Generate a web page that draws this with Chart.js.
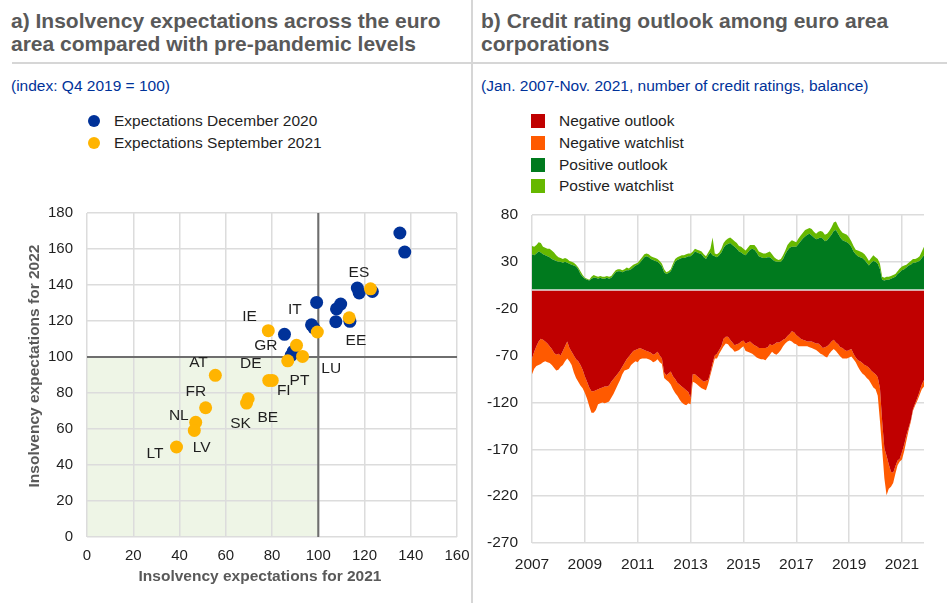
<!DOCTYPE html>
<html>
<head>
<meta charset="utf-8">
<script src="https://cdn.jsdelivr.net/npm/chart.js@4.4.1/dist/chart.umd.min.js"></script>
<style>
  body { margin: 0; background: #fff; font-family: "Liberation Sans", Arial, sans-serif; }
  #page { position: relative; width: 947px; height: 603px; overflow: hidden; }
  .title { position: absolute; top: 9px; font-weight: bold; font-size: 21px; line-height: 23px; color: #595959; white-space: nowrap; }
  .sub { position: absolute; top: 77px; font-size: 15.5px; line-height: 18px; color: #003299; white-space: nowrap; }
  .rule { position: absolute; left: 12px; right: 0; top: 62px; height: 2px; background: #d6d6d6; }
  .divider { position: absolute; left: 471px; top: 0; width: 2px; height: 603px; background: #d6d6d6; }
  .item { position: absolute; font-size: 15.5px; line-height: 21px; height: 21px; color: #1f1f1f; white-space: nowrap; }
  .dot { display: inline-block; width: 12px; height: 12px; border-radius: 50%; vertical-align: -1px; margin-right: 14px; }
  .sq { display: inline-block; width: 14px; height: 14px; vertical-align: -2px; margin-right: 14px; }
  canvas { position: absolute; top: 200px; }
</style>
</head>
<body>
<div id="page">
  <div class="title" style="left:11px">a) Insolvency expectations across the euro<br>area compared with pre-pandemic levels</div>
  <div class="title" style="left:481px">b) Credit rating outlook among euro area<br>corporations</div>
  <div class="rule"></div>
  <div class="sub" style="left:11px">(index: Q4 2019 = 100)</div>
  <div class="sub" style="left:481px">(Jan. 2007-Nov. 2021, number of credit ratings, balance)</div>

  <div class="item" style="left:88px;top:110px"><span class="dot" style="background:#003299"></span>Expectations December 2020</div>
  <div class="item" style="left:88px;top:132px"><span class="dot" style="background:#ffb400"></span>Expectations September 2021</div>

  <div class="item" style="left:531px;top:110px"><span class="sq" style="background:#c00000"></span>Negative outlook</div>
  <div class="item" style="left:531px;top:132px"><span class="sq" style="background:#ff5a00"></span>Negative watchlist</div>
  <div class="item" style="left:531px;top:154px"><span class="sq" style="background:#007a1e"></span>Positive outlook</div>
  <div class="item" style="left:531px;top:175px"><span class="sq" style="background:#66b800"></span>Postive watchlist</div>

  <canvas id="scatterChart" width="470" height="403" style="left:0"></canvas>
  <canvas id="ratingChart" width="477" height="403" style="left:470px"></canvas>
  <div class="divider"></div>
</div>

<script>
// ---- panel a) insolvency expectations (index, Q4 2019 = 100) ----
const BENCHMARK = 100;

const dec2020X = [135.3, 137.4, 116.9, 117.7, 123.4, 99.3, 109.7, 107.9, 107.6, 113.7, 97.1, 98.1, 85.4, 89.2, 88.3];
const dec2020Y = [168.9, 158.3, 138.3, 135.6, 136.4, 130.3, 129.4, 126.7, 119.6, 119.8, 117.9, 116.1, 112.6, 103.1, 100.9];

const sep2021X = [122.6, 113.4, 99.6, 78.4, 90.6, 93.2, 86.8, 78.6, 80.1, 55.5, 69.7, 69.0, 51.3, 47.0, 46.4, 38.7];
const sep2021Y = [137.9, 121.8, 113.9, 114.6, 106.5, 100.3, 97.9, 87.0, 87.0, 89.8, 76.8, 74.4, 71.8, 63.7, 59.2, 50.0];

// country tags, placed in data units
const countryCodes = ["ES", "IT", "IE", "GR", "EE", "AT", "DE", "LU", "PT", "FI", "FR", "NL", "SK", "BE", "LT", "LV"];
const countryTagX = [117.6, 89.9, 70.3, 77.3, 116.3, 48.2, 70.8, 105.6, 91.9, 85.1, 47.1, 39.7, 66.4, 78.2, 29.4, 49.6];
const countryTagY = [147.1, 126.2, 122.2, 106.3, 108.9, 97.0, 96.1, 93.7, 86.6, 81.4, 80.9, 67.4, 63.2, 66.0, 46.1, 49.4];

// ---- panel b) credit rating outlook, Jan 2007 - Nov 2021, monthly ----
const posOutlook = [
  38, 37, 39, 41, 40, 38, 37, 36, 35, 33, 32, 31,
  30, 30, 29, 30, 29, 28, 27, 26, 25, 22, 17, 14,
  12, 11, 10, 12, 13, 13, 12, 13, 12, 12, 13, 12,
  13, 16, 19, 20, 20, 19, 20, 21, 21, 22, 24, 26,
  27, 29, 32, 35, 36, 35, 33, 32, 31, 30, 28, 25,
  19, 17, 18, 20, 25, 30, 32, 33, 34, 34, 35, 36,
  36, 38, 41, 40, 39, 38, 35, 33, 37, 40, 37, 36,
  35, 37, 40, 45, 48, 49, 50, 48, 46, 44, 41, 40,
  38, 37, 40, 43, 44, 43, 40, 36, 35, 34, 34, 35,
  35, 33, 31, 30, 30, 30, 33, 38, 42, 45, 46, 46,
  46, 49, 52, 55, 57, 59, 60, 58, 56, 54, 55, 56,
  55, 52, 53, 56, 59, 63, 64, 60, 56, 53, 52, 51,
  49, 46, 41, 38, 36, 35, 34, 32, 29, 26, 29, 31,
  30, 28, 22, 11, 10, 11, 11, 12, 13, 14, 17, 19,
  21, 22, 24, 26, 27, 29, 29, 30, 31, 34, 37,
];
const posWatch = [
  9, 9, 9, 10, 10, 8, 8, 8, 9, 9, 8, 6,
  5, 4, 4, 4, 4, 3, 3, 3, 2, 2, 3, 2,
  1, 1, 1, 2, 3, 2, 2, 2, 2, 2, 2, 2,
  2, 2, 2, 2, 2, 2, 2, 3, 2, 3, 3, 2,
  2, 3, 3, 3, 3, 3, 3, 3, 3, 3, 3, 3,
  3, 2, 2, 2, 3, 3, 3, 3, 3, 3, 3, 3,
  3, 3, 3, 3, 3, 3, 3, 3, 3, 4, 19, 3,
  3, 3, 4, 5, 5, 6, 6, 6, 6, 6, 6, 6,
  6, 5, 5, 5, 4, 5, 5, 5, 5, 5, 5, 5,
  6, 5, 4, 3, 2, 3, 4, 4, 6, 6, 7, 6,
  5, 6, 6, 6, 7, 6, 6, 7, 6, 6, 7, 7,
  7, 7, 7, 7, 8, 9, 9, 8, 8, 8, 8, 8,
  7, 6, 6, 5, 6, 6, 6, 6, 6, 5, 5, 6,
  5, 5, 6, 3, 3, 3, 3, 3, 3, 3, 3, 4,
  4, 4, 3, 3, 4, 4, 4, 4, 5, 7, 9,
];
const negOutlook = [
  -73, -66, -60, -55, -52, -53, -55, -57, -60, -63, -67, -69,
  -68, -70, -65, -60, -55, -62, -66, -70, -74, -76, -80, -85,
  -92, -98, -104, -108, -108, -107, -106, -105, -104, -103, -103, -102,
  -98, -95, -92, -89, -86, -82, -78, -74, -71, -68, -65, -64,
  -63, -62, -63, -64, -65, -66, -67, -69, -68, -66, -70, -73,
  -88, -91, -89, -87, -92, -95, -99, -101, -103, -105, -107, -109,
  -115, -90, -90, -92, -94, -96, -98, -97, -96, -88, -78, -70,
  -68, -64, -60, -52, -50, -50, -53, -56, -59, -58, -57, -55,
  -54, -57, -56, -55, -57, -59, -60, -62, -62, -62, -62, -61,
  -58, -59, -58, -56, -56, -55, -53, -52, -49, -47, -44, -45,
  -48, -50, -52, -53, -54, -55, -55, -55, -56, -57, -57, -59,
  -62, -61, -60, -58, -55, -53, -56, -58, -61, -62, -64, -65,
  -64, -63, -68, -72, -75, -76, -78, -80, -81, -83, -86, -88,
  -90, -93, -105, -140, -169, -177, -186, -194, -195, -188, -182, -180,
  -173, -165, -155, -147, -139, -127, -121, -115, -108, -101, -96,
];
const negWatch = [
  -17, -18, -21, -25, -27, -24, -21, -20, -18, -17, -16, -17,
  -17, -12, -15, -16, -18, -14, -14, -18, -20, -22, -22, -20,
  -18, -18, -20, -23, -23, -21, -16, -16, -16, -18, -17, -17,
  -17, -16, -14, -12, -10, -8, -8, -11, -13, -12, -13, -12,
  -14, -12, -10, -9, -8, -8, -8, -8, -8, -8, -7, -6,
  -6, -5, -9, -14, -14, -15, -14, -16, -17, -17, -16, -12,
  -7, -8, -9, -9, -9, -9, -8, -10, -4, -3, -4, -3,
  -5, -4, -4, -8, -7, -8, -8, -7, -7, -7, -7, -7,
  -6, -8, -10, -12, -11, -11, -12, -11, -12, -12, -13, -11,
  -11, -7, -10, -13, -11, -9, -7, -5, -6, -7, -11, -12,
  -10, -10, -8, -7, -6, -5, -6, -7, -7, -7, -9, -9,
  -7, -10, -12, -10, -10, -10, -9, -10, -10, -11, -9, -8,
  -8, -8, -6, -5, -7, -10, -11, -11, -13, -13, -14, -16,
  -16, -20, -35, -30, -32, -42, -26, -16, -11, -8, -5, -3,
  -8, -7, -6, -3, -2, -2, -2, -3, -4, -5, -7,
];

const FIRST_YEAR = 2007;
const LAST_YEAR = 2021;
const LAST_MONTH = 11;

const GRID = "#dcdcdc";
const TEXT = "#1f1f1f";
const TITLE_GREY = "#595959";
const FONT = "'Liberation Sans', Arial, sans-serif";

const monthLabels = [];
for (let yr = FIRST_YEAR; yr <= LAST_YEAR; yr++) {
  for (let m = 1; m <= 12; m++) {
    if (yr === LAST_YEAR && m > LAST_MONTH) break;
    monthLabels.push(yr + "-" + String(m).padStart(2, "0"));
  }
}

function toPoints(xs, ys) {
  return xs.map((x, i) => ({ x: x, y: ys[i] }));
}

// keep the plot box where the layout padding puts it
function noScalePadding(s) {
  s.paddingTop = 0;
  s.paddingBottom = 0;
  s.paddingLeft = 0;
  s.paddingRight = 0;
}

const quadrantPlugin = {
  id: "quadrant",
  beforeDraw(chart) {
    const { ctx, scales: { x, y } } = chart;
    const left = x.getPixelForValue(0);
    const right = x.getPixelForValue(BENCHMARK);
    const top = y.getPixelForValue(BENCHMARK);
    const bottom = y.getPixelForValue(0);
    ctx.save();
    ctx.fillStyle = "#eef5e6";
    ctx.fillRect(left, top, right - left, bottom - top);
    ctx.restore();
  },
  beforeDatasetsDraw(chart) {
    const { ctx, chartArea, scales: { x, y } } = chart;
    const px = x.getPixelForValue(BENCHMARK);
    const py = y.getPixelForValue(BENCHMARK);
    ctx.save();
    ctx.strokeStyle = "#6e6e6e";
    ctx.lineWidth = 2;
    ctx.beginPath();
    ctx.moveTo(px, chartArea.top);
    ctx.lineTo(px, chartArea.bottom);
    ctx.moveTo(chartArea.left, py);
    ctx.lineTo(chartArea.right, py);
    ctx.stroke();
    ctx.restore();
  },
  afterDatasetsDraw(chart) {
    const { ctx, scales: { x, y } } = chart;
    ctx.save();
    ctx.fillStyle = TEXT;
    ctx.font = "15.5px " + FONT;
    ctx.textAlign = "center";
    ctx.textBaseline = "middle";
    countryCodes.forEach((code, i) => {
      ctx.fillText(code, x.getPixelForValue(countryTagX[i]), y.getPixelForValue(countryTagY[i]));
    });
    ctx.restore();
  },
  afterDraw(chart) {
    const { ctx, chartArea } = chart;
    ctx.save();
    ctx.fillStyle = TITLE_GREY;
    ctx.font = "bold 15.5px " + FONT;
    ctx.textAlign = "center";
    ctx.textBaseline = "middle";
    ctx.fillText("Insolvency expectations for 2021", (chartArea.left + chartArea.right) / 2 - 12, chartArea.bottom + 40);
    ctx.translate(35, (chartArea.top + chartArea.bottom) / 2 - 9);
    ctx.rotate(-Math.PI / 2);
    ctx.fillText("Insolvency expectations for 2022", 0, 0);
    ctx.restore();
  },
};

const zeroLinePlugin = {
  id: "zeroLine",
  afterDatasetsDraw(chart) {
    const { ctx, chartArea, scales: { y } } = chart;
    const py = y.getPixelForValue(0);
    ctx.save();
    ctx.strokeStyle = "#e6e6e6";
    ctx.lineWidth = 1.5;
    ctx.beginPath();
    ctx.moveTo(chartArea.left, py);
    ctx.lineTo(chartArea.right, py);
    ctx.stroke();
    ctx.restore();
  },
};

function renderScatter() {
  new Chart(document.getElementById("scatterChart"), {
    type: "scatter",
    plugins: [quadrantPlugin],
    data: {
      datasets: [
        {
          label: "Expectations September 2021",
          data: toPoints(sep2021X, sep2021Y),
          backgroundColor: "#ffb400",
          pointRadius: 6.5,
          pointBorderWidth: 0,
          order: 1,
        },
        {
          label: "Expectations December 2020",
          data: toPoints(dec2020X, dec2020Y),
          backgroundColor: "#003299",
          pointRadius: 6.5,
          pointBorderWidth: 0,
          order: 2,
        },
      ],
    },
    options: {
      responsive: false,
      animation: false,
      layout: { padding: { top: 13, right: 13, left: 0, bottom: 0 } },
      plugins: { legend: { display: false }, tooltip: { enabled: false } },
      scales: {
        x: {
          type: "linear",
          min: 0,
          max: 160,
          ticks: { stepSize: 20, color: TEXT, font: { family: FONT, size: 15 }, padding: 10 },
          grid: { color: GRID, lineWidth: 1.5, drawTicks: false },
          border: { display: false },
          afterFit: (s) => { s.height = 66; noScalePadding(s); },
        },
        y: {
          min: 0,
          max: 180,
          ticks: { stepSize: 20, color: TEXT, font: { family: FONT, size: 15 }, padding: 14 },
          grid: { color: GRID, lineWidth: 1.5, drawTicks: false },
          border: { display: false },
          afterFit: (s) => { s.width = 87; noScalePadding(s); },
        },
      },
    },
  });
}

function renderRatings() {
  new Chart(document.getElementById("ratingChart"), {
    type: "line",
    plugins: [zeroLinePlugin],
    data: {
      labels: monthLabels,
      datasets: [
        { label: "Positive outlook", data: posOutlook, backgroundColor: "#007a1e", fill: "origin" },
        { label: "Postive watchlist", data: posWatch, backgroundColor: "#66b800", fill: 0 },
        { label: "Negative outlook", data: negOutlook, backgroundColor: "#c00000", fill: "origin" },
        { label: "Negative watchlist", data: negWatch, backgroundColor: "#ff5a00", fill: 2 },
      ],
    },
    options: {
      responsive: false,
      animation: false,
      layout: { padding: { top: 15, right: 23, left: 0, bottom: 0 } },
      elements: {
        point: { radius: 0 },
        line: { borderWidth: 0, borderColor: "transparent", tension: 0 },
      },
      plugins: { legend: { display: false }, tooltip: { enabled: false } },
      scales: {
        x: {
          ticks: {
            autoSkip: false,
            maxRotation: 0,
            minRotation: 0,
            color: TEXT,
            font: { family: FONT, size: 15.5 },
            padding: 12,
            callback: (value, index) => {
              const [yr, m] = monthLabels[index].split("-");
              return m === "01" && (Number(yr) - FIRST_YEAR) % 2 === 0 ? yr : null;
            },
          },
          grid: { color: GRID, lineWidth: 1.5, drawTicks: false },
          border: { display: false },
          afterFit: (s) => { s.height = 60; noScalePadding(s); },
        },
        y: {
          stacked: true,
          min: -270,
          max: 80,
          ticks: { stepSize: 50, color: TEXT, font: { family: FONT, size: 15.5 }, padding: 14 },
          grid: { color: GRID, lineWidth: 1.5, drawTicks: false },
          border: { display: false },
          afterFit: (s) => { s.width = 62; noScalePadding(s); },
        },
      },
    },
  });
}

renderScatter();
renderRatings();
</script>
</body>
</html>
